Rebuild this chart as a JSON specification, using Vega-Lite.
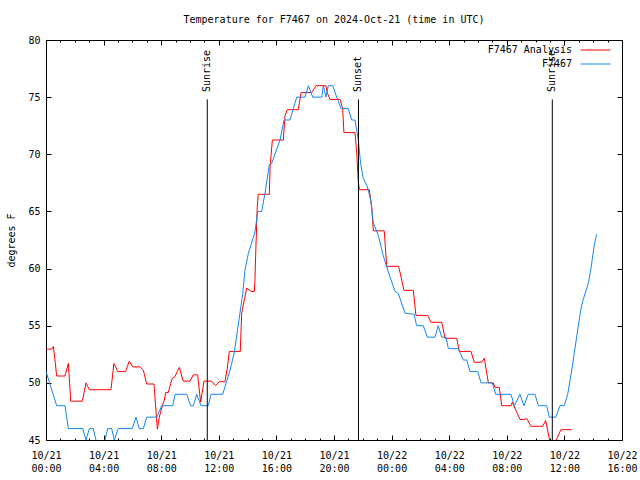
{
  "$schema": "https://vega.github.io/schema/vega-lite/v6.json",
  "width": 576,
  "height": 400,
  "autosize": {"type": "none"},
  "padding": {"left": 46, "top": 40, "right": 18, "bottom": 40},
  "background": "white",
  "config": {
    "font": "DejaVu Sans Mono",
    "view": {"stroke": "black", "strokeWidth": 1},
    "axis": {"domain": false, "grid": false, "labelFont": "DejaVu Sans Mono", "labelFontSize": 10, "labelColor": "black", "tickColor": "black", "tickWidth": 1, "titleFont": "DejaVu Sans Mono", "titleFontWeight": "normal", "titleFontSize": 10, "titleColor": "black"}
  },
  "title": {"text": "Temperature for F7467 on 2024-Oct-21 (time in UTC)", "anchor": "middle", "offset": 10, "font": "DejaVu Sans Mono", "fontSize": 10, "fontWeight": "normal", "color": "black"},
  "datasets": {
    "temps": [
      {"h": 0.00, "t": 52.95, "series": "F7467 Analysis"},
      {"h": 0.40, "t": 52.95, "series": "F7467 Analysis"},
      {"h": 0.51, "t": 53.2, "series": "F7467 Analysis"},
      {"h": 0.65, "t": 51.7, "series": "F7467 Analysis"},
      {"h": 0.74, "t": 50.6, "series": "F7467 Analysis"},
      {"h": 1.32, "t": 50.6, "series": "F7467 Analysis"},
      {"h": 1.55, "t": 51.7, "series": "F7467 Analysis"},
      {"h": 1.72, "t": 48.4, "series": "F7467 Analysis"},
      {"h": 2.52, "t": 48.4, "series": "F7467 Analysis"},
      {"h": 2.78, "t": 50.0, "series": "F7467 Analysis"},
      {"h": 3.01, "t": 49.4, "series": "F7467 Analysis"},
      {"h": 4.51, "t": 49.4, "series": "F7467 Analysis"},
      {"h": 4.72, "t": 51.7, "series": "F7467 Analysis"},
      {"h": 4.98, "t": 51.0, "series": "F7467 Analysis"},
      {"h": 5.53, "t": 51.0, "series": "F7467 Analysis"},
      {"h": 5.78, "t": 51.9, "series": "F7467 Analysis"},
      {"h": 6.02, "t": 51.4, "series": "F7467 Analysis"},
      {"h": 6.53, "t": 51.4, "series": "F7467 Analysis"},
      {"h": 6.76, "t": 51.1, "series": "F7467 Analysis"},
      {"h": 6.99, "t": 49.9, "series": "F7467 Analysis"},
      {"h": 7.50, "t": 49.9, "series": "F7467 Analysis"},
      {"h": 7.73, "t": 45.95, "series": "F7467 Analysis"},
      {"h": 7.87, "t": 47.0, "series": "F7467 Analysis"},
      {"h": 8.08, "t": 48.0, "series": "F7467 Analysis"},
      {"h": 8.22, "t": 48.5, "series": "F7467 Analysis"},
      {"h": 8.31, "t": 49.15, "series": "F7467 Analysis"},
      {"h": 8.49, "t": 49.15, "series": "F7467 Analysis"},
      {"h": 8.66, "t": 49.95, "series": "F7467 Analysis"},
      {"h": 8.77, "t": 50.4, "series": "F7467 Analysis"},
      {"h": 8.96, "t": 50.55, "series": "F7467 Analysis"},
      {"h": 9.12, "t": 51.0, "series": "F7467 Analysis"},
      {"h": 9.26, "t": 51.35, "series": "F7467 Analysis"},
      {"h": 9.38, "t": 50.8, "series": "F7467 Analysis"},
      {"h": 9.53, "t": 50.15, "series": "F7467 Analysis"},
      {"h": 10.00, "t": 50.15, "series": "F7467 Analysis"},
      {"h": 10.23, "t": 50.7, "series": "F7467 Analysis"},
      {"h": 10.53, "t": 50.7, "series": "F7467 Analysis"},
      {"h": 10.74, "t": 48.3, "series": "F7467 Analysis"},
      {"h": 10.97, "t": 50.15, "series": "F7467 Analysis"},
      {"h": 11.51, "t": 50.15, "series": "F7467 Analysis"},
      {"h": 11.78, "t": 49.75, "series": "F7467 Analysis"},
      {"h": 12.03, "t": 50.1, "series": "F7467 Analysis"},
      {"h": 12.43, "t": 50.1, "series": "F7467 Analysis"},
      {"h": 12.59, "t": 51.3, "series": "F7467 Analysis"},
      {"h": 12.73, "t": 52.75, "series": "F7467 Analysis"},
      {"h": 13.49, "t": 52.75, "series": "F7467 Analysis"},
      {"h": 13.59, "t": 56.1, "series": "F7467 Analysis"},
      {"h": 13.77, "t": 57.25, "series": "F7467 Analysis"},
      {"h": 13.94, "t": 58.3, "series": "F7467 Analysis"},
      {"h": 14.24, "t": 58.0, "series": "F7467 Analysis"},
      {"h": 14.47, "t": 58.0, "series": "F7467 Analysis"},
      {"h": 14.51, "t": 59.0, "series": "F7467 Analysis"},
      {"h": 14.56, "t": 61.2, "series": "F7467 Analysis"},
      {"h": 14.67, "t": 65.4, "series": "F7467 Analysis"},
      {"h": 14.74, "t": 66.5, "series": "F7467 Analysis"},
      {"h": 15.51, "t": 66.5, "series": "F7467 Analysis"},
      {"h": 15.56, "t": 68.9, "series": "F7467 Analysis"},
      {"h": 15.72, "t": 71.25, "series": "F7467 Analysis"},
      {"h": 16.48, "t": 71.25, "series": "F7467 Analysis"},
      {"h": 16.60, "t": 73.4, "series": "F7467 Analysis"},
      {"h": 16.76, "t": 73.9, "series": "F7467 Analysis"},
      {"h": 17.52, "t": 73.9, "series": "F7467 Analysis"},
      {"h": 17.71, "t": 75.4, "series": "F7467 Analysis"},
      {"h": 18.45, "t": 75.4, "series": "F7467 Analysis"},
      {"h": 18.75, "t": 76.0, "series": "F7467 Analysis"},
      {"h": 19.44, "t": 76.0, "series": "F7467 Analysis"},
      {"h": 19.53, "t": 75.4, "series": "F7467 Analysis"},
      {"h": 19.72, "t": 74.8, "series": "F7467 Analysis"},
      {"h": 20.42, "t": 74.8, "series": "F7467 Analysis"},
      {"h": 20.60, "t": 74.0, "series": "F7467 Analysis"},
      {"h": 20.69, "t": 71.9, "series": "F7467 Analysis"},
      {"h": 21.46, "t": 71.9, "series": "F7467 Analysis"},
      {"h": 21.58, "t": 70.1, "series": "F7467 Analysis"},
      {"h": 21.69, "t": 67.6, "series": "F7467 Analysis"},
      {"h": 21.76, "t": 66.9, "series": "F7467 Analysis"},
      {"h": 22.45, "t": 66.9, "series": "F7467 Analysis"},
      {"h": 22.62, "t": 65.4, "series": "F7467 Analysis"},
      {"h": 22.73, "t": 63.3, "series": "F7467 Analysis"},
      {"h": 23.49, "t": 63.3, "series": "F7467 Analysis"},
      {"h": 23.66, "t": 60.2, "series": "F7467 Analysis"},
      {"h": 24.49, "t": 60.2, "series": "F7467 Analysis"},
      {"h": 24.86, "t": 58.1, "series": "F7467 Analysis"},
      {"h": 25.51, "t": 58.1, "series": "F7467 Analysis"},
      {"h": 25.69, "t": 55.9, "series": "F7467 Analysis"},
      {"h": 26.51, "t": 55.9, "series": "F7467 Analysis"},
      {"h": 26.74, "t": 55.3, "series": "F7467 Analysis"},
      {"h": 27.48, "t": 55.3, "series": "F7467 Analysis"},
      {"h": 27.71, "t": 53.9, "series": "F7467 Analysis"},
      {"h": 28.52, "t": 53.9, "series": "F7467 Analysis"},
      {"h": 28.70, "t": 52.75, "series": "F7467 Analysis"},
      {"h": 29.51, "t": 52.75, "series": "F7467 Analysis"},
      {"h": 29.74, "t": 51.8, "series": "F7467 Analysis"},
      {"h": 30.26, "t": 51.8, "series": "F7467 Analysis"},
      {"h": 30.44, "t": 52.15, "series": "F7467 Analysis"},
      {"h": 30.72, "t": 50.0, "series": "F7467 Analysis"},
      {"h": 31.06, "t": 50.0, "series": "F7467 Analysis"},
      {"h": 31.18, "t": 49.6, "series": "F7467 Analysis"},
      {"h": 31.48, "t": 49.6, "series": "F7467 Analysis"},
      {"h": 31.65, "t": 48.0, "series": "F7467 Analysis"},
      {"h": 32.29, "t": 48.0, "series": "F7467 Analysis"},
      {"h": 32.38, "t": 48.3, "series": "F7467 Analysis"},
      {"h": 32.92, "t": 46.8, "series": "F7467 Analysis"},
      {"h": 33.26, "t": 46.8, "series": "F7467 Analysis"},
      {"h": 33.38, "t": 46.9, "series": "F7467 Analysis"},
      {"h": 33.68, "t": 46.2, "series": "F7467 Analysis"},
      {"h": 34.49, "t": 46.2, "series": "F7467 Analysis"},
      {"h": 34.70, "t": 46.7, "series": "F7467 Analysis"},
      {"h": 35.00, "t": 44.8, "series": "F7467 Analysis"},
      {"h": 35.21, "t": 44.2, "series": "F7467 Analysis"},
      {"h": 35.42, "t": 45.0, "series": "F7467 Analysis"},
      {"h": 35.76, "t": 45.9, "series": "F7467 Analysis"},
      {"h": 36.51, "t": 45.9, "series": "F7467 Analysis"},
      {"h": 0.00, "t": 51, "series": "F7467"},
      {"h": 0.74, "t": 48, "series": "F7467"},
      {"h": 1.32, "t": 48, "series": "F7467"},
      {"h": 1.55, "t": 46, "series": "F7467"},
      {"h": 2.55, "t": 46, "series": "F7467"},
      {"h": 2.78, "t": 45, "series": "F7467"},
      {"h": 3.01, "t": 46, "series": "F7467"},
      {"h": 3.28, "t": 46, "series": "F7467"},
      {"h": 3.47, "t": 45, "series": "F7467"},
      {"h": 3.78, "t": 44, "series": "F7467"},
      {"h": 4.10, "t": 45, "series": "F7467"},
      {"h": 4.28, "t": 46, "series": "F7467"},
      {"h": 4.56, "t": 46, "series": "F7467"},
      {"h": 4.74, "t": 45, "series": "F7467"},
      {"h": 5.02, "t": 46, "series": "F7467"},
      {"h": 5.99, "t": 46, "series": "F7467"},
      {"h": 6.25, "t": 47, "series": "F7467"},
      {"h": 6.48, "t": 46, "series": "F7467"},
      {"h": 6.76, "t": 46, "series": "F7467"},
      {"h": 6.99, "t": 47, "series": "F7467"},
      {"h": 7.71, "t": 47, "series": "F7467"},
      {"h": 8.03, "t": 48, "series": "F7467"},
      {"h": 8.80, "t": 48, "series": "F7467"},
      {"h": 8.96, "t": 49, "series": "F7467"},
      {"h": 9.77, "t": 49, "series": "F7467"},
      {"h": 10.05, "t": 48, "series": "F7467"},
      {"h": 10.23, "t": 48, "series": "F7467"},
      {"h": 10.47, "t": 49, "series": "F7467"},
      {"h": 10.76, "t": 48, "series": "F7467"},
      {"h": 11.27, "t": 48, "series": "F7467"},
      {"h": 11.46, "t": 49, "series": "F7467"},
      {"h": 12.27, "t": 49, "series": "F7467"},
      {"h": 12.78, "t": 51.1, "series": "F7467"},
      {"h": 13.08, "t": 52.7, "series": "F7467"},
      {"h": 13.47, "t": 56.1, "series": "F7467"},
      {"h": 13.66, "t": 57.8, "series": "F7467"},
      {"h": 13.82, "t": 59.9, "series": "F7467"},
      {"h": 14.05, "t": 61.3, "series": "F7467"},
      {"h": 14.51, "t": 63.2, "series": "F7467"},
      {"h": 14.70, "t": 65.0, "series": "F7467"},
      {"h": 14.98, "t": 65.0, "series": "F7467"},
      {"h": 15.21, "t": 66.6, "series": "F7467"},
      {"h": 15.51, "t": 69.1, "series": "F7467"},
      {"h": 15.67, "t": 69.2, "series": "F7467"},
      {"h": 16.25, "t": 71.25, "series": "F7467"},
      {"h": 16.53, "t": 73.0, "series": "F7467"},
      {"h": 16.94, "t": 73.0, "series": "F7467"},
      {"h": 17.41, "t": 75, "series": "F7467"},
      {"h": 17.99, "t": 75, "series": "F7467"},
      {"h": 18.22, "t": 76, "series": "F7467"},
      {"h": 18.52, "t": 75, "series": "F7467"},
      {"h": 19.15, "t": 75, "series": "F7467"},
      {"h": 19.26, "t": 76, "series": "F7467"},
      {"h": 19.44, "t": 75, "series": "F7467"},
      {"h": 19.60, "t": 76, "series": "F7467"},
      {"h": 19.91, "t": 76, "series": "F7467"},
      {"h": 20.19, "t": 75, "series": "F7467"},
      {"h": 20.49, "t": 74, "series": "F7467"},
      {"h": 20.99, "t": 74, "series": "F7467"},
      {"h": 21.23, "t": 73, "series": "F7467"},
      {"h": 21.46, "t": 73, "series": "F7467"},
      {"h": 21.69, "t": 71.25, "series": "F7467"},
      {"h": 21.85, "t": 69.2, "series": "F7467"},
      {"h": 22.03, "t": 67.9, "series": "F7467"},
      {"h": 22.31, "t": 67.2, "series": "F7467"},
      {"h": 22.55, "t": 66, "series": "F7467"},
      {"h": 22.73, "t": 64, "series": "F7467"},
      {"h": 23.08, "t": 62.9, "series": "F7467"},
      {"h": 23.38, "t": 61.3, "series": "F7467"},
      {"h": 23.77, "t": 59.7, "series": "F7467"},
      {"h": 24.24, "t": 58, "series": "F7467"},
      {"h": 24.47, "t": 57.8, "series": "F7467"},
      {"h": 24.93, "t": 56.1, "series": "F7467"},
      {"h": 25.56, "t": 56, "series": "F7467"},
      {"h": 25.74, "t": 55, "series": "F7467"},
      {"h": 26.20, "t": 55, "series": "F7467"},
      {"h": 26.48, "t": 54, "series": "F7467"},
      {"h": 27.01, "t": 54, "series": "F7467"},
      {"h": 27.24, "t": 55, "series": "F7467"},
      {"h": 27.48, "t": 54, "series": "F7467"},
      {"h": 27.78, "t": 54, "series": "F7467"},
      {"h": 27.94, "t": 53, "series": "F7467"},
      {"h": 28.63, "t": 53, "series": "F7467"},
      {"h": 28.98, "t": 52, "series": "F7467"},
      {"h": 29.22, "t": 52, "series": "F7467"},
      {"h": 29.44, "t": 51, "series": "F7467"},
      {"h": 29.98, "t": 51, "series": "F7467"},
      {"h": 30.21, "t": 50, "series": "F7467"},
      {"h": 30.99, "t": 50, "series": "F7467"},
      {"h": 31.23, "t": 49, "series": "F7467"},
      {"h": 32.29, "t": 49, "series": "F7467"},
      {"h": 32.52, "t": 48, "series": "F7467"},
      {"h": 32.92, "t": 49, "series": "F7467"},
      {"h": 33.19, "t": 48, "series": "F7467"},
      {"h": 33.49, "t": 49, "series": "F7467"},
      {"h": 33.96, "t": 49, "series": "F7467"},
      {"h": 34.19, "t": 48, "series": "F7467"},
      {"h": 34.77, "t": 48, "series": "F7467"},
      {"h": 34.95, "t": 47, "series": "F7467"},
      {"h": 35.40, "t": 47, "series": "F7467"},
      {"h": 35.69, "t": 48, "series": "F7467"},
      {"h": 35.99, "t": 48, "series": "F7467"},
      {"h": 36.23, "t": 49, "series": "F7467"},
      {"h": 36.51, "t": 51.1, "series": "F7467"},
      {"h": 36.85, "t": 54, "series": "F7467"},
      {"h": 37.15, "t": 56.5, "series": "F7467"},
      {"h": 37.31, "t": 57.3, "series": "F7467"},
      {"h": 37.66, "t": 58.7, "series": "F7467"},
      {"h": 37.83, "t": 59.9, "series": "F7467"},
      {"h": 38.08, "t": 62.1, "series": "F7467"},
      {"h": 38.24, "t": 63, "series": "F7467"}
    ],
    "sun": [
      {"h": 11.2, "label": "Sunrise"},
      {"h": 21.7, "label": "Sunset"},
      {"h": 35.16, "label": "Sunrise"}
    ]
  },
  "layer": [
    {
      "data": {"name": "temps"},
      "mark": {"type": "line", "strokeWidth": 1, "clip": true},
      "encoding": {
        "x": {"field": "h", "type": "quantitative",
          "scale": {"domain": [0, 40], "nice": false, "zero": false},
          "axis": {"orient": "bottom", "title": null, "values": [0,1,2,3,4,5,6,7,8,9,10,11,12,13,14,15,16,17,18,19,20,21,22,23,24,25,26,27,28,29,30,31,32,33,34,35,36,37,38,39,40],
            "labelExpr": "datum.value % 4 == 0 ? ['10/' + (21 + floor(datum.value / 24)), (datum.value % 24 < 10 ? '0' : '') + (datum.value % 24) + ':00'] : ''",
            "tickSize": {"condition": {"test": "datum.value % 4 == 0", "value": -5}, "value": -2},
            "labelBaseline": "top", "labelLineHeight": 13, "labelPadding": 15, "labelOverlap": false, "labelFlush": false, "labelBound": false}},
        "y": {"field": "t", "type": "quantitative",
          "scale": {"domain": [45, 80], "nice": false, "zero": false},
          "axis": {"orient": "left", "title": "degrees F", "values": [45,50,55,60,65,70,75,80], "tickSize": -5, "labelPadding": 11, "labelOverlap": false, "labelFlush": false,
            "titleX": -35, "titleY": 200, "titleAngle": 270, "titleAlign": "center", "titleBaseline": "middle"}},
        "color": {"field": "series", "type": "nominal",
          "scale": {"domain": ["F7467 Analysis", "F7467"], "range": ["#ff0000", "#1487f0"]},
          "legend": {"orient": "none", "legendX": 544, "legendY": 4.5, "title": null, "symbolType": "M-3,0H3", "symbolSize": 100, "symbolStrokeWidth": 1, "labelAlign": "right", "labelOffset": -29, "labelFont": "DejaVu Sans Mono", "labelFontSize": 10, "labelColor": "black", "padding": 0, "rowPadding": 3}}
      }
    },
    {
      "data": {"name": "sun"},
      "mark": {"type": "rule", "color": "black", "strokeWidth": 1},
      "encoding": {
        "x": {"field": "h", "type": "quantitative",
          "scale": {"domain": [0, 40], "nice": false, "zero": false},
          "axis": {"orient": "top", "title": null, "labels": false, "values": [0,1,2,3,4,5,6,7,8,9,10,11,12,13,14,15,16,17,18,19,20,21,22,23,24,25,26,27,28,29,30,31,32,33,34,35,36,37,38,39,40],
            "tickSize": {"condition": {"test": "datum.value % 4 == 0", "value": -5}, "value": -2}}},
        "y": {"datum": 74.8, "type": "quantitative",
          "scale": {"domain": [45, 80], "nice": false, "zero": false},
          "axis": {"orient": "right", "title": null, "labels": false, "values": [45,50,55,60,65,70,75,80], "tickSize": -5}},
        "y2": {"datum": 45}
      }
    },
    {
      "data": {"name": "sun"},
      "mark": {"type": "text", "angle": 270, "align": "left", "baseline": "middle", "font": "DejaVu Sans Mono", "fontSize": 10, "color": "black"},
      "encoding": {
        "x": {"field": "h", "type": "quantitative", "axis": null},
        "y": {"datum": 75.45, "type": "quantitative", "axis": null},
        "text": {"field": "label"}
      }
    }
  ],
  "resolve": {"axis": {"x": "independent", "y": "independent"}}
}
